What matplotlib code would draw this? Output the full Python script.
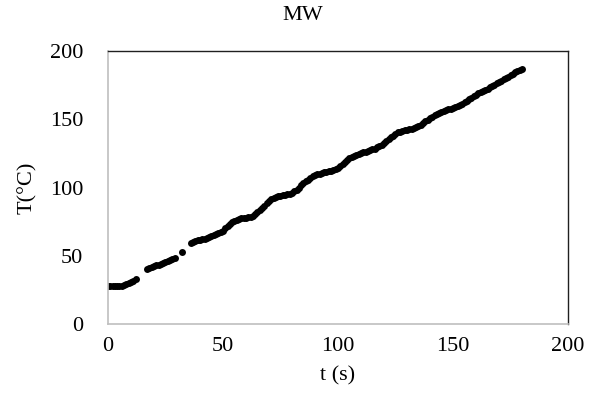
import matplotlib
matplotlib.use("Agg")
import matplotlib.pyplot as plt

# Heating curve: time (s) vs temperature (°C), logged once per second
t_s = ([0, 1, 2, 3, 4, 5, 6, 7, 8, 9, 10, 11, 12]
       + [17, 18, 19, 20, 21, 22, 23, 24, 25, 26, 27, 28, 29]
       + [32]
       + list(range(36, 181)))

temp_c = [
    # 0-12 s
    27.5, 27.5, 27.5, 27.5, 27.5, 27.6, 27.8, 28.3, 29.0, 29.7, 30.5, 31.8, 33.3,
    # 17-29 s
    40.5, 41.3, 42.0, 42.5, 43.0, 43.5, 44.0, 44.6, 45.3, 46.0, 46.8, 47.6, 48.5,
    # 32 s
    52.5,
    # 36-45 s
    59.5, 60.2, 60.8, 61.3, 61.7, 62.1, 62.5, 63.0, 63.5, 64.2,
    # 46-55 s
    65.0, 65.7, 66.5, 67.4, 68.5, 70.2, 72.0, 73.6, 75.0, 75.8,
    # 56-65 s
    76.5, 77.0, 77.3, 77.7, 78.0, 78.3, 78.7, 79.4, 80.5, 82.0,
    # 66-75 s
    83.5, 85.0, 86.5, 88.3, 90.0, 91.4, 92.5, 93.2, 93.7, 94.0,
    # 76-85 s
    94.3, 94.6, 94.9, 95.3, 96.0, 97.1, 98.5, 100.0, 101.5, 103.0,
    # 86-95 s
    104.5, 105.8, 107.0, 108.1, 109.0, 109.7, 110.2, 110.6, 111.0, 111.4,
    # 96-105 s
    111.8, 112.3, 113.0, 113.7, 114.5, 115.6, 117.0, 118.5, 120.0, 121.3,
    # 106-115 s
    122.5, 123.3, 124.0, 124.7, 125.3, 125.8, 126.2, 126.7, 127.3, 127.9,
    # 116-125 s
    128.5, 129.4, 130.5, 131.5, 132.5, 133.9, 135.3, 136.7, 138.0, 139.3,
    # 126-135 s
    140.3, 141.0, 141.5, 141.9, 142.3, 142.7, 143.2, 143.7, 144.3, 145.1,
    # 136-145 s
    146.0, 147.2, 148.5, 149.8, 151.0, 152.0, 153.0, 154.0, 154.8, 155.4,
    # 146-155 s
    156.0, 156.6, 157.2, 157.7, 158.3, 159.0, 159.8, 160.6, 161.5, 162.5,
    # 156-165 s
    163.5, 164.5, 165.5, 166.8, 168.0, 168.9, 169.8, 170.6, 171.5, 172.4,
    # 166-175 s
    173.3, 174.3, 175.3, 176.3, 177.3, 178.3, 179.3, 180.3, 181.3, 182.3,
    # 176-180 s
    183.3, 184.3, 185.3, 186.1, 187.0,
]

x_ticks = [0, 50, 100, 150, 200]
y_ticks = [0, 50, 100, 150, 200]

plt.rcParams["font.family"] = ["Liberation Serif", "DejaVu Serif"]

fig = plt.figure(figsize=(6.06, 4.07), dpi=100)
ax = fig.add_axes([0.1782, 0.2039, 0.7591, 0.6708])

ax.plot(t_s, temp_c, linestyle="none", marker="o", markersize=5.0,
        color="black", markeredgewidth=0)

ax.set_xlim(0, 200)
ax.set_ylim(0, 200)
ax.set_xticks(x_ticks)
ax.set_yticks(y_ticks)
ax.tick_params(axis="both", length=0, labelsize=16)
ax.tick_params(axis="y", pad=18)
ax.tick_params(axis="x", pad=9)

for side in ("left", "bottom"):
    ax.spines[side].set_color("#bfbfbf")
    ax.spines[side].set_linewidth(1.2)
for side in ("top", "right"):
    ax.spines[side].set_color("#202020")
    ax.spines[side].set_linewidth(1.0)

ax.set_xlabel("t (s)", fontsize=16, labelpad=8)
ax.set_ylabel("T(°C)", fontsize=16, labelpad=9)
fig.text(0.5, 0.963, "MW", fontsize=16, ha="center", va="center")

fig.savefig("out.png", dpi=100)
